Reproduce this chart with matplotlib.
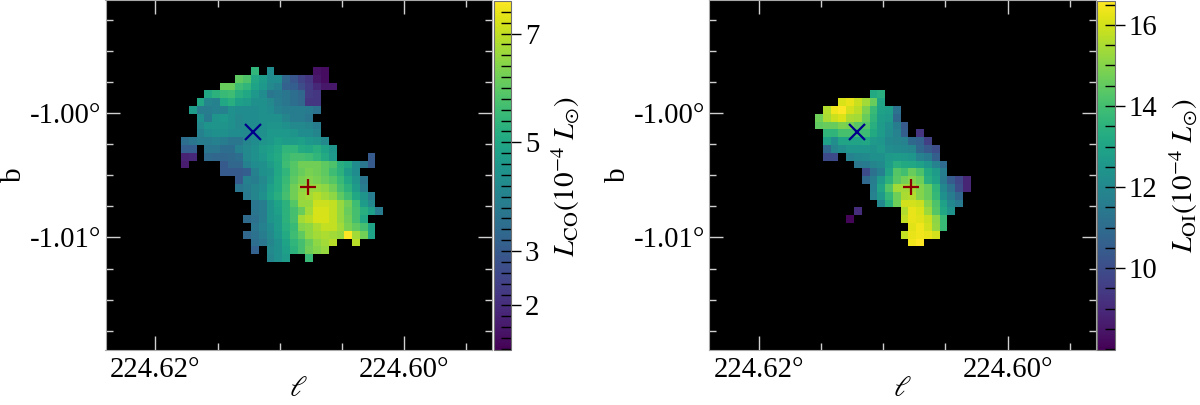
"""Two luminosity maps side by side, CO on the left and OI on the right."""

import numpy as np
import matplotlib
matplotlib.use("Agg")
import matplotlib.pyplot as plt
from matplotlib.ticker import MultipleLocator, FixedLocator

plt.rcParams["font.family"] = ["Liberation Serif", "DejaVu Serif"]
plt.rcParams["mathtext.fontset"] = "stix"
plt.rcParams["font.size"] = 20.7

# grid of the maps: corner of the first cell and cell size in degrees
GRID_LON0 = 224.61797
GRID_LAT0 = -0.99633
CELL = 6.245e-4
N_ROWS = 25
N_COLS = 27

XLIM = (224.62402, 224.59292)
YLIM = (-1.01904, -0.99092)

# each row: list of (first column, values), in units of 1e-4 Lsun
co_rows = [
    [(9, [5.4]), (11, [4.3]), (17, [1.5, 1.4])],
    [(7, [6.0, 5.8, 5.0, 4.7, 4.3, 4.3, 3.3, 2.9, 2.5, 2.2, 1.6, 1.4])],
    [(5, [6.1, 6.1, 5.6, 5.4, 4.9, 4.6, 4.2, 4.0, 3.2, 3.1, 2.7, 2.3, 1.9, 1.6, 1.6])],
    [(3, [5.0, 5.3, 5.5, 5.6, 5.2, 5.0, 4.6, 4.3, 3.7, 3.8, 3.7, 3.5, 3.3, 2.3, 2.2])],
    [(2, [5.0, 4.1, 4.0, 5.0, 5.2, 4.8, 4.7, 4.4, 4.4, 4.2, 3.9, 3.7, 3.5, 3.3, 2.2, 2.2])],
    [(1, [4.7, 3.9, 3.9, 4.0, 4.0, 4.4, 4.3, 4.3, 4.3, 4.4, 4.3, 4.0, 3.9, 3.9, 3.9, 3.8, 3.6])],
    [(2, [4.4, 3.8, 4.5, 4.6, 4.4, 4.2, 4.3, 4.3, 4.4, 4.4, 4.4, 4.1, 3.9, 3.9, 3.7])],
    [(2, [4.2, 4.5, 4.5, 4.5, 4.4, 4.2, 4.3, 4.3, 4.4, 4.5, 4.5, 4.4, 4.2, 4.2, 4.1, 3.9])],
    [(2, [4.0, 4.3, 4.4, 4.4, 4.3, 4.3, 4.2, 4.3, 4.4, 4.6, 4.6, 4.6, 4.5, 4.3, 4.3, 4.1])],
    [(0, [3.5, 3.7, 3.9, 3.9, 4.0, 3.9, 3.7, 3.7, 4.1, 4.3, 4.5, 4.6, 4.8, 4.7, 4.7, 4.8, 4.6, 4.5, 4.2])],
    [(0, [3.1, 3.1]), (3, [3.7, 3.7, 3.5, 3.5, 4.0, 4.2, 4.4, 4.7, 4.8, 5.0, 5.4, 5.4, 5.1, 5.0, 5.2, 4.9, 4.5])],
    [(0, [1.8, 1.9]), (3, [3.4, 3.3, 3.3, 3.4, 3.5, 4.2, 4.4, 4.6, 4.9, 5.1, 5.5, 5.7, 5.7, 5.6, 5.4, 5.1, 4.6]), (24, [3.0])],
    [(0, [1.7]), (5, [3.0, 3.3, 3.3, 4.0, 4.3, 4.4, 4.7, 5.0, 5.6, 5.9, 6.2, 6.2, 6.2, 6.0, 5.8, 5.2, 5.0, 4.3, 3.7, 3.0])],
    [(5, [3.0, 3.0, 3.0, 3.1, 4.0, 4.4, 4.5, 5.0, 5.4, 5.9, 6.1, 6.3, 6.2, 6.0, 5.6, 5.3, 4.7, 4.3])],
    [(7, [3.0, 4.0, 3.9, 4.2, 4.6, 5.1, 5.5, 6.0, 6.3, 6.4, 6.3, 6.1, 5.9, 5.5, 5.0, 4.5, 3.7])],
    [(7, [3.7, 3.9, 4.1, 4.3, 4.8, 5.1, 5.6, 6.2, 6.5, 6.6, 6.6, 6.5, 6.2, 5.7, 5.3, 4.7, 3.9])],
    [(8, [3.8, 4.1, 4.4, 4.9, 5.2, 5.7, 6.2, 6.6, 6.7, 6.9, 6.7, 6.5, 6.0, 5.6, 5.0, 4.5, 3.9])],
    [(9, [3.7, 3.9, 4.5, 4.9, 5.3, 5.9, 6.6, 6.6, 7.1, 7.1, 7.0, 6.6, 6.2, 5.6, 4.7, 4.2])],
    [(9, [3.7, 3.9, 4.5, 4.8, 5.3, 5.7, 6.1, 6.7, 7.2, 7.2, 7.0, 6.6, 6.1, 5.7, 5.2, 4.8, 3.9])],
    [(8, [3.4, 3.6, 3.9, 4.5, 4.7, 5.3, 5.7, 6.7, 6.9, 7.2, 7.2, 7.0, 6.6, 6.2, 5.7, 5.0])],
    [(9, [3.7, 4.0, 4.3, 4.7, 5.2, 5.5, 6.4, 6.5, 6.8, 7.0, 7.0, 6.7, 6.3, 6.0, 5.7, 4.9])],
    [(8, [3.3, 3.6, 3.9, 4.2, 4.6, 5.1, 5.6, 6.0, 6.5, 6.7, 6.8, 6.7, 6.6, 7.6, 6.7, 6.2, 4.9])],
    [(9, [3.5, 3.7, 4.1, 4.4, 4.9, 5.4, 5.7, 6.1, 6.5, 6.7, 6.9]), (22, [6.9])],
    [(9, [3.2]), (11, [4.2, 4.4, 4.8, 5.3, 5.7, 6.2, 6.4, 6.6])],
    [(11, [4.1, 4.4, 4.7]), (16, [5.5])],
]

oi_rows = [
    [],
    [],
    [],
    [(11, [13.2, 13.4])],
    [(7, [16.1, 16.3, 15.9, 15.4, 14.6, 13.0])],
    [(5, [15.6, 16.4, 16.6, 16.0, 15.7, 14.9, 13.8, 12.9, 12.8, 11.2])],
    [(4, [14.7, 15.5, 15.9, 16.1, 15.5, 15.4, 14.6, 13.6, 12.8, 12.6, 10.9])],
    [(4, [14.5, 14.6, 14.6, 14.9, 14.8, 14.4, 14.3, 13.4, 12.7, 12.3, 11.6, 10.4])],
    [(5, [13.6, 13.6, 14.1, 14.1, 13.9, 13.9, 13.2, 12.7, 12.2, 11.8, 10.6]), (17, [9.3])],
    [(5, [12.9, 12.2, 13.0, 13.0, 13.0, 13.1, 12.6, 12.5, 12.0, 11.9, 11.8, 10.9, 10.7, 9.6])],
    [(5, [10.9, 11.9, 12.2, 12.5, 12.5, 12.5, 12.4, 12.6, 12.2, 12.1, 12.0, 11.9, 10.9, 10.4, 10.0])],
    [(5, [9.9, 9.9]), (8, [11.8, 12.0, 12.1, 12.3, 12.3, 12.6, 12.7, 12.6, 12.5, 11.8, 11.5, 10.6])],
    [(9, [11.4, 11.5, 11.9, 12.1, 12.8, 13.4, 13.2, 13.1, 12.9, 12.5, 11.8, 11.0])],
    [(10, [9.9, 11.2, 11.7, 13.0, 14.3, 14.0, 14.6, 14.2, 13.2, 12.7, 11.6])],
    [(10, [10.9, 11.6, 12.6, 13.5, 14.4, 14.8, 15.0, 14.7, 13.4, 12.9, 11.5, 10.5, 9.8, 8.9])],
    [(11, [11.7, 13.0, 14.3, 15.4, 15.4, 15.4, 15.0, 14.6, 13.6, 12.0, 11.2, 10.0, 8.9])],
    [(11, [11.8, 12.6, 13.7, 14.7, 15.5, 15.6, 15.0, 14.6, 13.7, 12.3, 11.6, 10.9])],
    [(12, [12.0, 13.4, 14.7, 16.0, 16.0, 15.9, 15.0, 14.2, 12.9, 12.0, 11.5])],
    [(9, [9.1]), (15, [15.6, 16.3, 16.1, 15.3, 14.3, 13.1, 12.4])],
    [(8, [8.1]), (15, [15.8, 16.3, 16.2, 15.9, 15.1, 13.8])],
    [(16, [16.2, 16.4, 16.0, 15.2, 13.8])],
    [(15, [15.8, 16.3, 16.4, 16.3, 16.0])],
    [(16, [16.4, 16.6])],
    [],
    [],
]

co_range = (1.18, 7.6)
oi_range = (7.98, 16.59)
co_ticks = [2, 3, 5, 7]
oi_ticks = [10, 12, 14, 16]

cross_lon, cross_lat = 224.61215, -1.00153
plus_lon, plus_lat = 224.60773, -1.00594


def to_grid(rows):
    grid = np.full((N_ROWS, N_COLS), np.nan)
    for j, row in enumerate(rows):
        for start, vals in row:
            grid[j, start:start + len(vals)] = vals
    return grid


def draw_panel(fig, left, rows, vrange, ticks, minor, cb_label, label_x):
    ax = fig.add_axes([left / 1200, 55 / 405, 386.5 / 1200, 350 / 405], facecolor="black")
    cax = fig.add_axes([(left + 388) / 1200, 55 / 405, 17.5 / 1200, 349 / 405])

    cmap = plt.get_cmap("viridis").copy()
    cmap.set_bad("black")
    extent = [GRID_LON0, GRID_LON0 - N_COLS * CELL, GRID_LAT0 - N_ROWS * CELL, GRID_LAT0]
    im = ax.imshow(to_grid(rows), cmap=cmap, vmin=vrange[0], vmax=vrange[1], origin="upper",
                   extent=extent, interpolation="nearest", aspect="auto")
    ax.plot(cross_lon, cross_lat, "x", color="darkblue", ms=11, mew=1.6)
    ax.plot(plus_lon, plus_lat, "+", color="darkred", ms=11, mew=1.6)
    ax.set_xlim(XLIM)
    ax.set_ylim(YLIM)

    ax.set_xticks([224.62, 224.60])
    ax.set_xticklabels(["224.62°", "224.60°"])
    ax.set_yticks([-1.00, -1.01])
    ax.set_yticklabels(["-1.00°", "-1.01°"])
    ax.xaxis.set_minor_locator(MultipleLocator(0.005))
    ax.yaxis.set_minor_locator(MultipleLocator(0.0025))
    ax.tick_params(which="both", direction="in", top=True, right=True, color="#d0d0d0", width=1)
    ax.tick_params(which="major", length=10, labelsize=20.7, pad=5)
    ax.tick_params(which="minor", length=5)
    ax.tick_params(axis="y", which="major", pad=3)
    for sp in ax.spines.values():
        sp.set_color("#a8a8a8")
    ax.set_xlabel(r"$\ell$", fontsize=21, labelpad=-5)
    ax.set_ylabel("b", fontsize=21, labelpad=2)

    cb = fig.colorbar(im, cax=cax)
    cb.set_ticks(ticks)
    cb.ax.yaxis.set_minor_locator(FixedLocator(np.arange(np.ceil(vrange[0] / minor) * minor, vrange[1], minor)))
    cb.ax.tick_params(which="major", direction="inout", length=14, width=1, labelsize=20.7, pad=3)
    cb.ax.tick_params(which="minor", direction="in", length=7, width=1)
    cb.outline.set_edgecolor("#707070")
    fig.text(label_x / 1200, 1 - 176 / 405, cb_label, rotation=90, fontsize=21, ha="center", va="center")
    return ax


fig = plt.figure(figsize=(12, 4.05), dpi=100)
draw_panel(fig, 105.5, co_rows, co_range, co_ticks, 0.2, r"$L_{\rm CO}(10^{-4}\ L_{\odot})$", 566)
draw_panel(fig, 709, oi_rows, oi_range, oi_ticks, 0.5, r"$L_{\rm OI}(10^{-4}\ L_{\odot})$", 1184)
fig.savefig("out.png", dpi=100)
plt.close(fig)
